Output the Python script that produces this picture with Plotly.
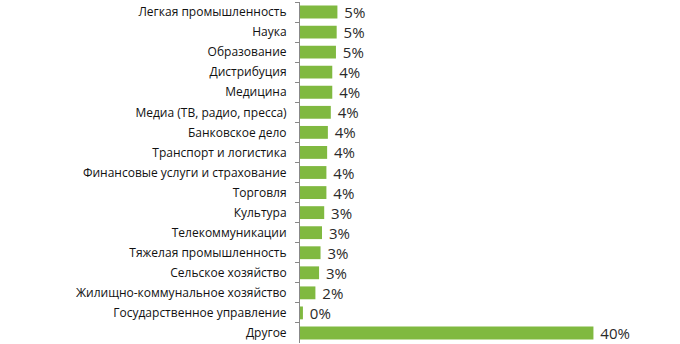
import plotly.graph_objects as go

# Доля по отраслям, %
categories = [
    "Легкая промышленность",
    "Наука",
    "Образование",
    "Дистрибуция",
    "Медицина",
    "Медиа (ТВ, радио, пресса)",
    "Банковское дело",
    "Транспорт и логистика",
    "Финансовые услуги и страхование",
    "Торговля",
    "Культура",
    "Телекоммуникации",
    "Тяжелая промышленность",
    "Сельское хозяйство",
    "Жилищно-коммунальное хозяйство",
    "Государственное управление",
    "Другое",
]
values = [5.1, 5.0, 4.9, 4.4, 4.4, 4.2, 3.8, 3.7, 3.6, 3.6, 3.3, 3.0, 2.8, 2.6, 2.1, 0.4, 40.0]

fig = go.Figure(
    go.Bar(
        x=values,
        y=categories,
        orientation="h",
        marker=dict(color="#80b940", line=dict(width=0)),
        width=0.64,
        text=values,
        texttemplate=" %{x:.0f}%",
        textposition="outside",
        constraintext="none",
        textfont=dict(family="Open Sans", size=15, color="#2a2a2a"),
        cliponaxis=False,
        hoverinfo="skip",
    )
)

fig.update_layout(
    width=680,
    height=344,
    margin=dict(l=300, r=0, t=2, b=1),
    paper_bgcolor="white",
    plot_bgcolor="white",
    showlegend=False,
    uniformtext=dict(mode=False),
    xaxis=dict(
        range=[0, 51.8],
        visible=False,
        fixedrange=True,
    ),
    yaxis=dict(
        type="category",
        autorange="reversed",
        showline=True,
        linecolor="#888888",
        linewidth=1,
        ticks="outside",
        ticklen=4,
        tickcolor="#888888",
        tickson="boundaries",
        ticklabelstandoff=10,
        showgrid=False,
        tickfont=dict(family="Open Sans", size=12, color="#111111"),
        fixedrange=True,
    ),
)

fig.write_html("out.html")
